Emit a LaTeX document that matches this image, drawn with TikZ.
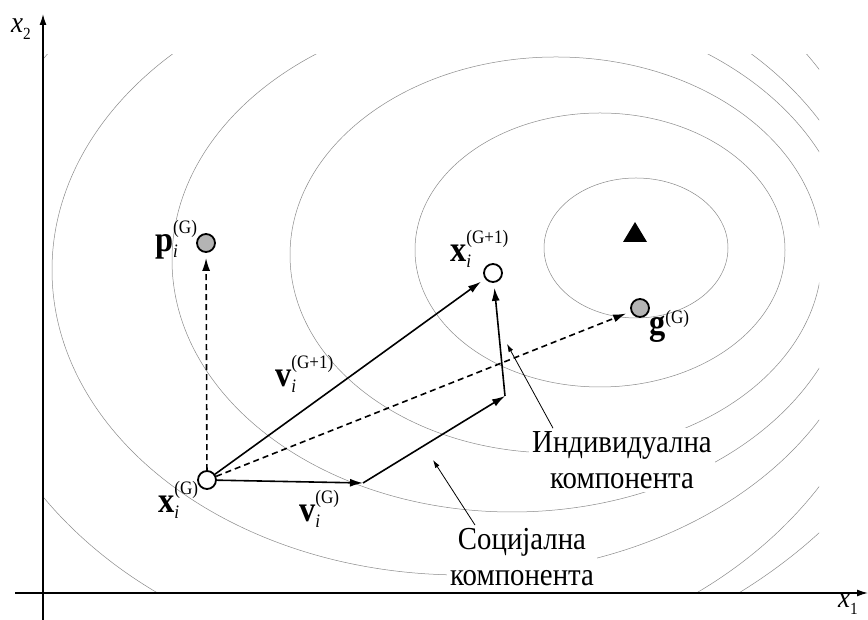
\documentclass[tikz,border=0pt]{standalone}
\usepackage{fontspec}
\setmainfont[FakeStretch=0.9]{Liberation Serif}
\usepackage{tikz}
\usetikzlibrary{arrows.meta}
\definecolor{contourgray}{HTML}{8A8A8A}
\definecolor{dotgray}{HTML}{B4B4B4}
\newcommand\scr{\fontsize{19}{19}\selectfont}
\newcommand\pvec[2]{\textbf{#1}\rlap{\raisebox{0.5em}{\scr(#2)}}\raisebox{-0.15em}{\scr\itshape i}}

\begin{document}
\begin{tikzpicture}[x=1pt,y=1pt,>=Latex,
    contour/.style={contourgray,line width=0.5pt},
    dot/.style={circle,draw,line width=1.8pt,minimum size=18pt,inner sep=0pt},
    vec/.style={line width=1.6pt,-{Latex[length=13pt,width=8pt]},shorten >=5pt},
    axis/.style={line width=1.4pt,-{Latex[length=11pt,width=7pt]}},
    lbl/.style={inner sep=0pt,anchor=base west,font=\fontsize{36}{36}\selectfont},
    note/.style={fill=white,align=center,inner sep=3pt,font=\fontsize{32}{36}\selectfont},
    pointer/.style={line width=0.8pt,-{Latex[length=8pt,width=5pt]}}]
    \useasboundingbox (0,0) rectangle (868,620);

    % Level curves first, cut to the plotting window.
    \begin{scope}
      \clip (44,27) rectangle (819,565);
      \foreach \cx/\cy/\rx/\ry in {636/372/92/70,600/370/185/137,556/365/266/198,
          512/360/340/252,462/350/410/305,427/342/466/386,380/360/569/429}
        \draw[contour] (\cx,\cy) ellipse [x radius=\rx,y radius=\ry];
    \end{scope}

    \node[dot,fill=white] (xG) at (207,140) {};
    \node[dot,fill=dotgray] (pb) at (206,377) {};
    \node[dot,fill=white] (xN) at (493,347) {};
    \node[dot,fill=dotgray] (gb) at (640,312) {};
    \fill (623,378) -- (635,398) -- (647,378) -- cycle;
    \coordinate (A) at (363,137);
    \coordinate (B) at (505,224);

    \draw[vec,dash pattern=on 6pt off 4pt] (xG) -- (pb);
    \draw[vec,dash pattern=on 6pt off 4pt] (xG) -- (gb);
    \draw[vec,shorten >=0pt] (xG) -- (A);
    \draw[vec,shorten >=0pt] (A) -- (B);
    \draw[vec] (B) -- (xN);
    \draw[vec] (xG) -- (xN);

    \node[lbl] (xGl) at (158,107) {\pvec{x}{G}};
    \node[lbl] (pl) at (155,368) {\pvec{p}{G}};
    \node[lbl] (xNl) at (450,358) {\pvec{x}{G+1}};
    \node[lbl] (vNl) at (275,233) {\pvec{v}{G+1}};
    \node[lbl] (vGl) at (299,98) {\pvec{v}{G}};
    \node[lbl] (gl) at (649,285) {\textbf{g}\raisebox{0.33em}{\scr(G)}};

    \node[note] (ind) at (622,160) {Индивидуална\\компонента};
    \node[note] (soc) at (522,63) {Социјална\\компонента};
    \coordinate (indtip) at (507,276);
    \coordinate (soctip) at (433,160);
    \draw[pointer] ([xshift=-69pt]ind.north) -- (indtip);
    \draw[pointer] ([xshift=-47pt]soc.north) -- (soctip);

    \coordinate (xs) at (15,27);
    \coordinate (xe) at (868,27);
    \coordinate (ys) at (43,0);
    \coordinate (ye) at (43,606);
    \draw[axis] (xs) -- (xe);
    \draw[axis] (ys) -- (ye);
    \node[lbl,font=\fontsize{30}{30}\selectfont] (x2l) at (11,587)
      {\textit{x}\raisebox{-0.22em}{\fontsize{17}{17}\selectfont 2}};
    \node[lbl,font=\fontsize{30}{30}\selectfont] (x1l) at (838,12)
      {\textit{x}\raisebox{-0.22em}{\fontsize{17}{17}\selectfont 1}};
  \end{tikzpicture}
\end{document}
